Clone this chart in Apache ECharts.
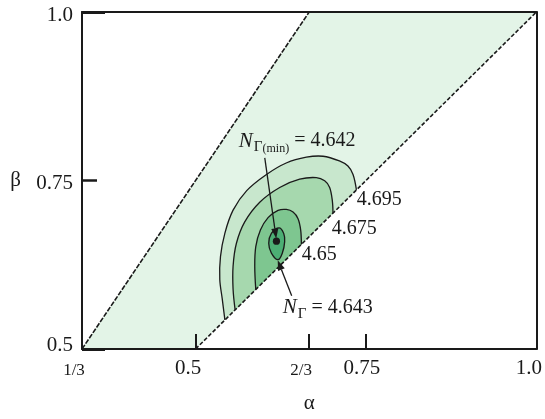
<!DOCTYPE html>
<html><head><meta charset="utf-8">
<script src="https://cdn.jsdelivr.net/npm/echarts@6/dist/echarts.min.js"></script>
<style>html,body{margin:0;padding:0;background:#fff}#c{width:545px;height:419px}</style>
</head><body><div id="c"></div>
<script>
// ---- data ----
const alphaTickValues = [1/3, 0.5, 2/3, 0.75, 1.0];
const alphaTickLabels = ['1/3', '0.5', '2/3', '0.75', '1.0'];
const alphaInnerTicks = [0.5, 2/3, 0.75];
const betaTickValues = [0.5, 0.75, 1.0];
const betaTickLabels = ['0.5', '0.75', '1.0'];
const betaShortTicks = [0.75];
const betaLongTicks = [0.5, 1.0];

const feasibleRegion = [[1/3, 0.5], [2/3, 1.0], [1.0, 1.0], [0.5, 0.5]];
const leftBoundary = [[1/3, 0.5], [2/3, 1.0]];
const rightBoundary = [[0.5, 0.5], [1.0, 1.0]];

const contour4695 = [[0.736,0.736],[0.731,0.759],[0.7235,0.7714],[0.711,0.779],[0.687,0.786],[0.6625,0.7846],[0.633,0.776],[0.604,0.759],[0.575,0.735],[0.555,0.706],[0.543,0.672],[0.5365,0.637],[0.5355,0.603],[0.539,0.575],[0.543,0.543]];
const contour4675 = [[0.7016,0.7016],[0.7006,0.7202],[0.6967,0.7397],[0.6894,0.7495],[0.6771,0.7543],[0.6527,0.7519],[0.6234,0.7397],[0.5941,0.7178],[0.5721,0.6886],[0.5599,0.6569],[0.555,0.6228],[0.555,0.5887],[0.558,0.558]];
const contour4650 = [[0.6552,0.6552],[0.6542,0.6764],[0.6503,0.6934],[0.643,0.7032],[0.6332,0.7071],[0.621,0.7056],[0.6063,0.6949],[0.5951,0.6764],[0.5883,0.652],[0.5868,0.6228],[0.5883,0.5883]];
const contour4643 = [[0.6224,0.6798],[0.6293,0.6715],[0.6307,0.6593],[0.6273,0.6423],[0.621,0.6325],[0.6112,0.6423],[0.6073,0.6569],[0.6112,0.6715]];

const contourLabels = ['4.695', '4.675', '4.65'];
const contourLabelPos = [[0.7363,0.7208],[0.6996,0.6784],[0.6557,0.6404]];
const minPoint = [[0.6186, 0.660]];
const minValueLabel = '4.642';
const minLabelPos = [[0.5634, 0.8085]];
const minArrow = [[0.6015, 0.7836], [0.6183, 0.6640]];
const nearValueLabel = '4.643';
const nearLabelPos = [[0.6278, 0.5614]];
const nearArrow = [[0.641, 0.579], [0.6205, 0.6316]];

// ---- styles ----
const serif = "'Liberation Serif','Times New Roman','DejaVu Serif',serif";
const ink = '#1a1a1a';
const colRegion = '#e3f4e7';
const colC1 = '#c8e7cd';
const colC2 = '#a6d8ae';
const colC3 = '#7ec690';
const colC4 = '#4cae74';

function shapeSeries(points, opts, z) {
  return {
    type: 'custom', coordinateSystem: 'cartesian2d', data: points, z: z, silent: true,
    renderItem: function (params, api) {
      if (params.dataIndex !== 0) return;
      const pts = points.map(p => api.coord(p));
      return {
        type: opts.closed ? 'polygon' : 'polyline',
        shape: { points: pts, smooth: opts.smooth || 0 },
        style: { fill: opts.fill || null, stroke: opts.stroke || null, lineWidth: opts.lineWidth || 1, lineDash: opts.lineDash || null }
      };
    }
  };
}

function arrowSeries(pts, z) {
  return {
    type: 'custom', coordinateSystem: 'cartesian2d', data: pts, z: z, silent: true,
    renderItem: function (params, api) {
      if (params.dataIndex !== 0) return;
      const a = api.coord(pts[0]), b = api.coord(pts[1]);
      const dx = b[0] - a[0], dy = b[1] - a[1];
      const L = Math.sqrt(dx * dx + dy * dy), ux = dx / L, uy = dy / L;
      const hl = 10, hw = 3.6;
      const bx = b[0] - ux * hl, by = b[1] - uy * hl;
      return {
        type: 'group', children: [
          { type: 'line', shape: { x1: a[0], y1: a[1], x2: bx, y2: by }, style: { stroke: ink, lineWidth: 1.3 } },
          { type: 'polygon', shape: { points: [[b[0], b[1]], [bx - uy * hw, by + ux * hw], [bx + uy * hw, by - ux * hw]] }, style: { fill: ink } }
        ]
      };
    }
  };
}

const richAnno = {
  n: { fontFamily: serif, fontStyle: 'italic', fontSize: 21, color: ink },
  g: { fontFamily: serif, fontSize: 15, color: ink, padding: [12, 0, 0, 1] },
  m: { fontFamily: serif, fontSize: 12, color: ink, padding: [15, 0, 0, 0] },
  t: { fontFamily: serif, fontSize: 20, color: ink }
};

function textSeries(pos, text, z) {
  return {
    type: 'custom', coordinateSystem: 'cartesian2d', data: pos, z: z, silent: true,
    renderItem: function (params, api) {
      const p = api.coord(pos[params.dataIndex]);
      return {
        type: 'text', x: p[0], y: p[1],
        style: { text: Array.isArray(text) ? text[params.dataIndex] : text, rich: richAnno, fontFamily: serif, fontSize: 20, fill: ink, align: 'left', verticalAlign: 'middle' }
      };
    }
  };
}

const dotSeries = {
  type: 'custom', coordinateSystem: 'cartesian2d', data: minPoint, z: 20, silent: true,
  renderItem: function (params, api) {
    const p = api.coord(minPoint[params.dataIndex]);
    return { type: 'circle', shape: { cx: p[0], cy: p[1], r: 3.6 }, style: { fill: ink } };
  }
};

const xRich = {
  s: { fontFamily: serif, fontSize: 17, color: ink, padding: [4, 16, 0, 0] },
  b: { fontFamily: serif, fontSize: 21, color: ink, padding: [0, 15, 0, 0] },
  c: { fontFamily: serif, fontSize: 21, color: ink, padding: [0, 8, 0, 0] }
};
const xStyleKey = ['s', 'b', 's', 'c', 'b'];
const yRich = {
  y0: { fontFamily: serif, fontSize: 21, color: ink, padding: [0, 0, 8, 0] },
  y1: { fontFamily: serif, fontSize: 21, color: ink, padding: [6, 0, 0, 0] },
  y2: { fontFamily: serif, fontSize: 21, color: ink, padding: [6, 0, 0, 0] }
};

function idxOf(arr, v) {
  for (let i = 0; i < arr.length; i++) if (Math.abs(arr[i] - v) < 1e-6) return i;
  return -1;
}

const frameLine = { show: true, lineStyle: { color: ink, width: 2 } };

const option = {
  animation: false,
  backgroundColor: '#ffffff',
  grid: { left: 82, right: 8, top: 12, bottom: 65, containLabel: false },
  xAxis: [
    {
      type: 'value', min: 1/3, max: 1, position: 'bottom', z: 10,
      axisLine: frameLine,
      axisTick: { show: true, inside: true, length: 15, customValues: alphaInnerTicks, lineStyle: { color: ink, width: 2 } },
      axisLabel: {
        show: true, customValues: alphaTickValues, margin: 9, showMinLabel: true, showMaxLabel: true, hideOverlap: false,
        formatter: function (v) { const i = idxOf(alphaTickValues, v); return i < 0 ? '' : '{' + xStyleKey[i] + '|' + alphaTickLabels[i] + '}'; },
        rich: xRich
      },
      splitLine: { show: false },
      name: 'α', nameLocation: 'middle', nameGap: 44,
      nameTextStyle: { fontFamily: serif, fontSize: 21, color: ink }
    },
    {
      type: 'value', min: 1/3, max: 1, position: 'top', z: 10,
      axisLine: frameLine, axisTick: { show: false }, axisLabel: { show: false }, splitLine: { show: false }
    }
  ],
  yAxis: [
    {
      type: 'value', min: 0.5, max: 1, position: 'left', z: 10,
      axisLine: frameLine,
      axisTick: { show: true, inside: true, length: 15, customValues: betaShortTicks, lineStyle: { color: ink, width: 2.5 } },
      axisLabel: {
        show: true, customValues: betaTickValues, margin: 9, showMinLabel: true, showMaxLabel: true,
        formatter: function (v) { const i = idxOf(betaTickValues, v); return i < 0 ? '' : '{y' + i + '|' + betaTickLabels[i] + '}'; },
        rich: yRich
      },
      splitLine: { show: false },
      name: 'β', nameLocation: 'middle', nameRotate: 0, nameGap: 61,
      nameTextStyle: { fontFamily: serif, fontSize: 21, color: ink }
    },
    {
      type: 'value', min: 0.5, max: 1, position: 'right', z: 10,
      axisLine: frameLine, axisTick: { show: false }, axisLabel: { show: false }, splitLine: { show: false }
    },
    {
      type: 'value', min: 0.5, max: 1, position: 'left', z: 10,
      axisLine: { show: false },
      axisTick: { show: true, inside: true, length: 23, customValues: betaLongTicks, lineStyle: { color: ink, width: 3 } },
      axisLabel: { show: false }, splitLine: { show: false }
    }
  ],
  series: [
    shapeSeries(feasibleRegion, { closed: true, fill: colRegion }, 1),
    shapeSeries(contour4695, { fill: colC1, stroke: ink, lineWidth: 1.3, smooth: 0.35 }, 2),
    shapeSeries(contour4675, { fill: colC2, stroke: ink, lineWidth: 1.3, smooth: 0.35 }, 3),
    shapeSeries(contour4650, { fill: colC3, stroke: ink, lineWidth: 1.3, smooth: 0.35 }, 4),
    shapeSeries(contour4643, { closed: true, fill: colC4, stroke: ink, lineWidth: 1.3, smooth: 0.4 }, 5),
    shapeSeries(leftBoundary, { stroke: ink, lineWidth: 1.6, lineDash: [5, 1.5] }, 6),
    shapeSeries(rightBoundary, { stroke: ink, lineWidth: 1.6, lineDash: [4, 2] }, 6),
    arrowSeries(minArrow, 21),
    arrowSeries(nearArrow, 21),
    dotSeries,
    textSeries(contourLabelPos, contourLabels, 22),
    textSeries(minLabelPos, '{n|N}{g|Γ}{m|(min)}{t| = ' + minValueLabel + '}', 22),
    textSeries(nearLabelPos, '{n|N}{g|Γ}{t| = ' + nearValueLabel + '}', 22)
  ]
};

const chart = echarts.init(document.getElementById('c'), null, { renderer: 'canvas' });
chart.setOption(option);
</script>
</body></html>
